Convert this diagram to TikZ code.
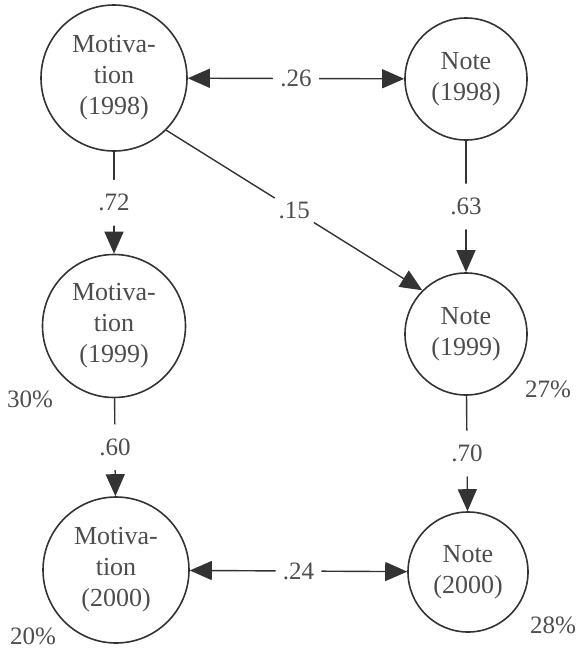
\documentclass[tikz,border=0pt]{standalone}
\usepackage{fontspec}
\setmainfont{Liberation Serif}
\usepackage{tikz}
\usetikzlibrary{arrows.meta, positioning}
\definecolor{pathgray}{HTML}{333333}
\definecolor{labelgray}{HTML}{4d4d4d}
\tikzset{
	latent/.style = {circle, draw=pathgray, line width=1.6pt, inner sep=0pt, align=center,
		text=labelgray, font=\fontsize{26}{31}\selectfont},
	coef/.style = {circle, fill=white, inner sep=0pt, minimum size=46pt,
		text=labelgray, font=\fontsize{25}{30}\selectfont},
	share/.style = {text=labelgray, font=\fontsize{25}{30}\selectfont},
	effect/.style = {draw=pathgray, line width=1.4pt, -{Triangle[length=22pt, width=19pt]}},
	corr/.style = {effect, {Triangle[length=22pt, width=19pt]}-{Triangle[length=22pt, width=19pt]}}
}

\begin{document}
\begin{tikzpicture}[x=1pt, y=-1pt]
	\useasboundingbox (0,0) rectangle (578,653);
	% latent variables
	\node[latent, minimum size=146pt] (mot98) at (114,78) {Motiva-\\tion\\(1998)};
	\node[latent, minimum size=122pt] (note98) at (466,79) {Note\\(1998)};
	\node[latent, minimum size=143pt] (mot99) at (114,326) {Motiva-\\tion\\(1999)};
	\node[latent, minimum size=122pt] (note99) at (466,334) {Note\\(1999)};
	\node[latent, minimum size=146pt] (mot00) at (116,570) {Motiva-\\tion\\(2000)};
	\node[latent, minimum size=120pt] (note00) at (468,572) {Note\\(2000)};
	% explained variance
	\node[share] (r2mot99) at (30,399) {30\%};
	\node[share] (r2mot00) at (33,636) {20\%};
	\node[share] (r2note99) at (548,389) {27\%};
	\node[share] (r2note00) at (553,625) {28\%};
	% paths
	\draw[corr] (mot98) -- node[coef] {.26} (note98);
	\draw[effect] (mot98) -- node[coef] {.72} (mot99);
	\draw[effect] (note98) -- node[coef] {.63} (note99);
	\draw[effect] (mot98.-45) -- node[coef] {.15} (note99.135);
	\draw[effect] (mot99) -- node[coef] {.60} (mot00);
	\draw[effect] (note99) -- node[coef] {.70} (note00);
	\draw[corr] (mot00) -- node[coef] {.24} (note00);
\end{tikzpicture}
\end{document}
